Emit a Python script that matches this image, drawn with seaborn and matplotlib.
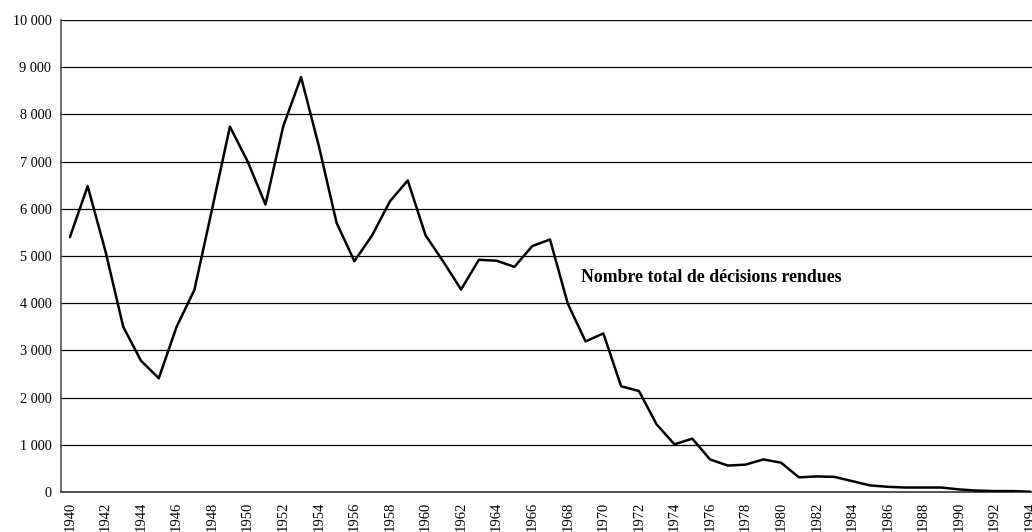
import matplotlib
matplotlib.use("Agg")
import matplotlib.pyplot as plt
import seaborn as sns
import pandas as pd

years = list(range(1940, 1995))
decisions = [5400, 6480, 5100, 3500, 2780, 2410, 3500, 4280, 6000, 7740,
             7000, 6090, 7750, 8790, 7330, 5700, 4890, 5440, 6160, 6600,
             5440, 4880, 4290, 4920, 4900, 4770, 5210, 5350, 3990, 3190,
             3360, 2240, 2140, 1430, 1010, 1130, 690, 560, 580, 690,
             620, 310, 330, 320, 230, 140, 110, 95, 95, 95,
             55, 30, 20, 20, 5]
y_ticks = [0, 1000, 2000, 3000, 4000, 5000, 6000, 7000, 8000, 9000, 10000]
y_tick_labels = ["0", "1 000", "2 000", "3 000", "4 000", "5 000", "6 000",
                 "7 000", "8 000", "9 000", "10 000"]
label_text = "Nombre total de décisions rendues"

df = pd.DataFrame({"year": years, "value": decisions})

sns.set_theme(style="white")
plt.rcParams["font.family"] = ["Liberation Serif", "DejaVu Serif"]

W, H = 1032, 532
fig = plt.figure(figsize=(W / 100, H / 100), dpi=100)
left, right, top, bottom = 61, 1039, 20, 492
ax = fig.add_axes([left / W, (H - bottom) / H, (right - left) / W, (bottom - top) / H])

ax.set_xlim(years[0] - 0.5, years[-1] + 0.5)
ax.set_ylim(0, 10000)

for v in y_ticks[1:]:
    ax.axhline(v, color="black", lw=0.9, zorder=1)

sns.lineplot(data=df, x="year", y="value", ax=ax, color="black", lw=1.8, zorder=3)

ax.set_yticks(y_ticks)
ax.set_yticklabels(y_tick_labels, fontsize=10.3)
even_years = [y for y in years if y % 2 == 0]
ax.set_xticks(even_years)
ax.set_xticklabels([str(y) for y in even_years], rotation=90, fontsize=10.5)
ax.set_xticks([y - 0.5 for y in years] + [years[-1] + 0.5], minor=True)
ax.tick_params(axis="x", which="major", length=0, pad=7)
ax.tick_params(axis="x", which="minor", length=4, width=0.9, color="black", direction="out")
ax.tick_params(axis="y", which="major", length=5, width=0.9, color="black", direction="out", pad=2)
ax.tick_params(colors="black")

for s in ["top", "right"]:
    ax.spines[s].set_visible(False)
ax.spines["left"].set_color("#555555")
ax.spines["left"].set_linewidth(1.2)
ax.spines["bottom"].set_color("#333333")
ax.spines["bottom"].set_linewidth(1.2)

ax.set_xlabel("")
ax.set_ylabel("")

ax.text(1968.75, 4555, label_text, fontsize=12.8, fontweight="bold",
        va="center", ha="left", color="black")

fig.savefig("out.png", dpi=100)
